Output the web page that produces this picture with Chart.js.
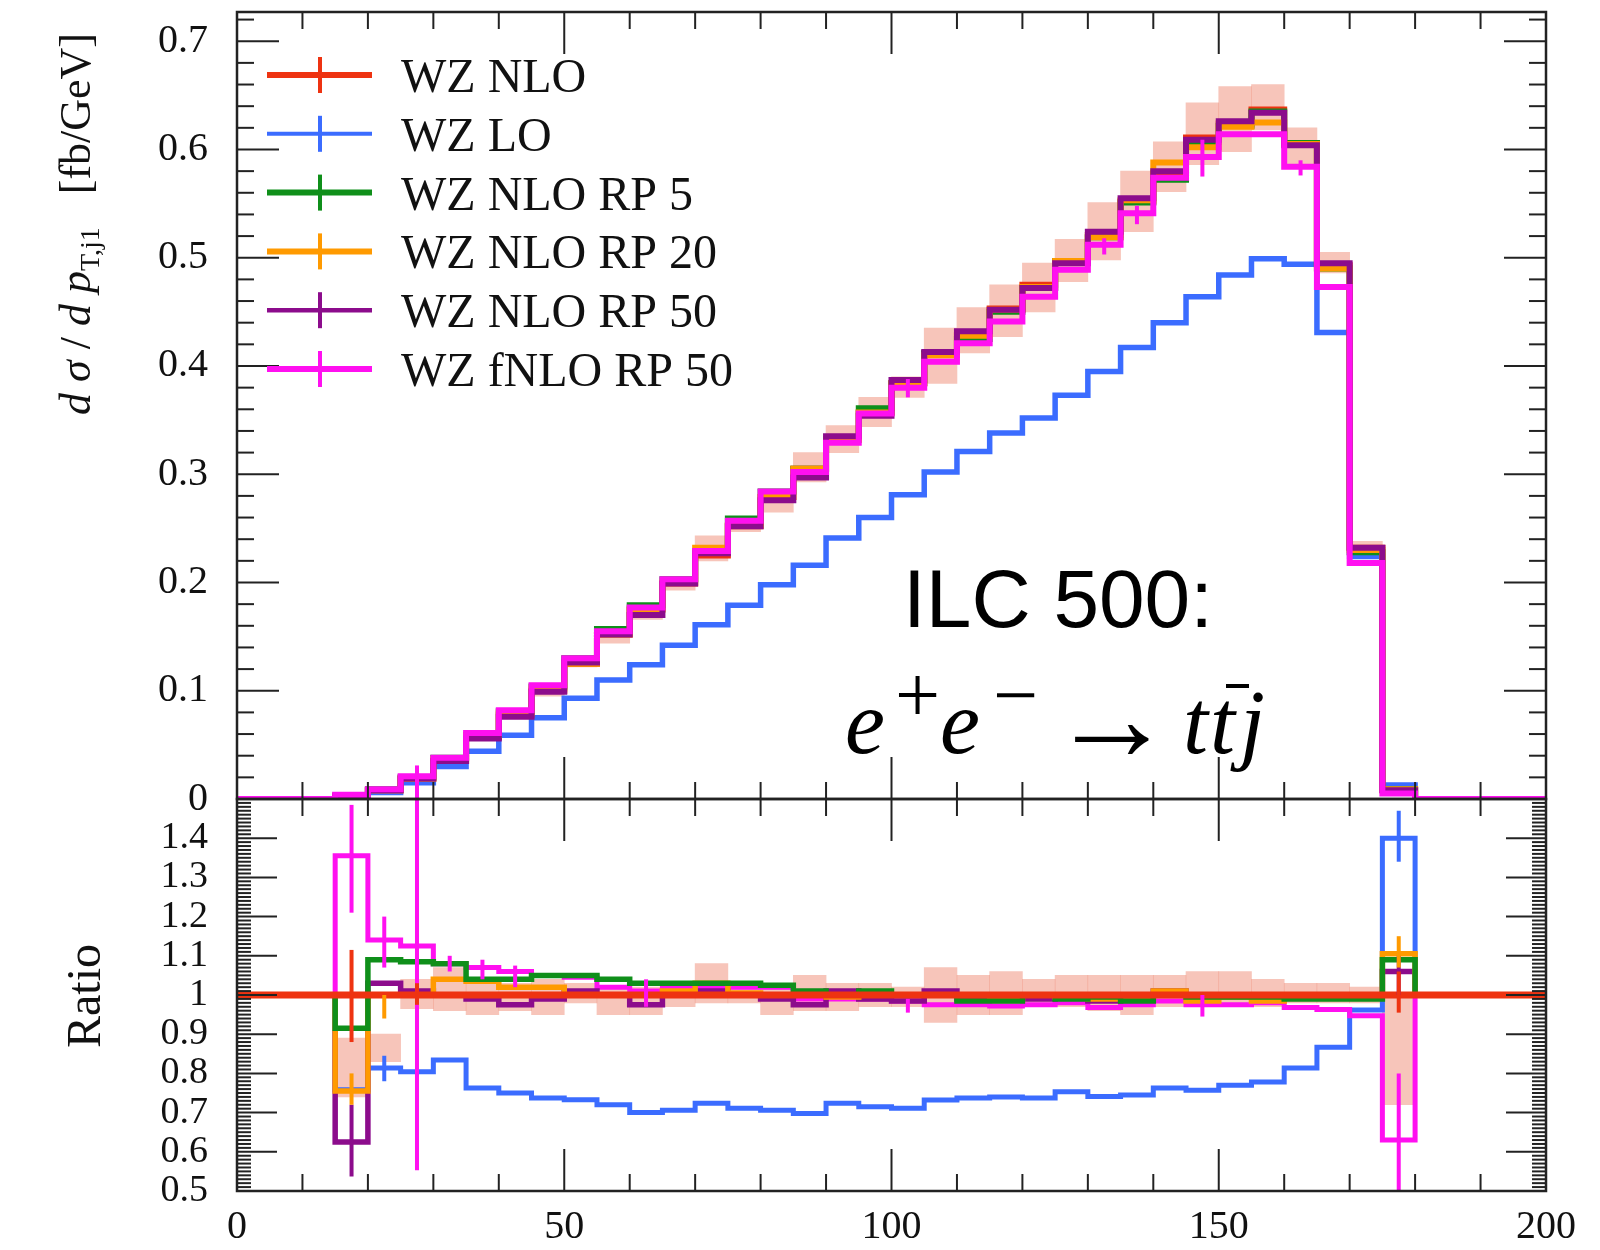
<!DOCTYPE html>
<html>
<head>
<meta charset="utf-8">
<script src="https://cdn.jsdelivr.net/npm/chart.js@4.4.1/dist/chart.umd.min.js"></script>
<style>
  html, body { margin: 0; padding: 0; background: #fff; }
  #wrap { position: relative; width: 1600px; height: 1250px; }
</style>
</head>
<body>
<div id="wrap"><canvas id="c" width="1600" height="1250"></canvas></div>
<script>
// pT of leading jet, 5 GeV bins
const binEdges = [0, 5, 10, 15, 20, 25, 30, 35, 40, 45, 50, 55, 60, 65, 70, 75, 80, 85, 90, 95, 100,
  105, 110, 115, 120, 125, 130, 135, 140, 145, 150, 155, 160, 165, 170, 175, 180, 185, 190, 195, 200];
const xTickLabels = [0, 50, 100, 150, 200];
const seriesNames = ["WZ NLO", "WZ LO", "WZ NLO RP 5", "WZ NLO RP 20", "WZ NLO RP 50", "WZ fNLO RP 50"];

// upper panel: dsigma/dpT [fb/GeV]
const nloTop = [0, 0, 0, 0.003, 0.008, 0.019, 0.035, 0.057, 0.078, 0.100,
  0.125, 0.152, 0.175, 0.199, 0.225, 0.252, 0.279, 0.305, 0.332, 0.357,
  0.384, 0.411, 0.429, 0.453, 0.475, 0.497, 0.521, 0.552, 0.578, 0.611,
  0.624, 0.637, 0.606, 0.493, 0.232, 0.008, 0, 0, 0, 0];
const loTop = [0, 0, 0, 0.002, 0.006, 0.015, 0.030, 0.044, 0.059, 0.075,
  0.093, 0.110, 0.124, 0.142, 0.161, 0.179, 0.198, 0.216, 0.241, 0.260,
  0.281, 0.302, 0.321, 0.338, 0.352, 0.373, 0.395, 0.417, 0.440, 0.464,
  0.484, 0.499, 0.494, 0.431, 0.224, 0.013, 0, 0, 0, 0];
const rp5Top = [0, 0, 0, 0.003, 0.009, 0.020, 0.038, 0.059, 0.081, 0.104,
  0.130, 0.157, 0.179, 0.203, 0.229, 0.259, 0.284, 0.305, 0.332, 0.361,
  0.384, 0.412, 0.425, 0.450, 0.472, 0.497, 0.519, 0.551, 0.572, 0.607,
  0.622, 0.635, 0.606, 0.490, 0.228, 0.009, 0, 0, 0, 0];
const rp20Top = [0, 0, 0, 0.002, 0.008, 0.019, 0.037, 0.059, 0.080, 0.102,
  0.125, 0.152, 0.175, 0.200, 0.232, 0.253, 0.279, 0.305, 0.332, 0.357,
  0.384, 0.410, 0.428, 0.452, 0.473, 0.497, 0.519, 0.553, 0.588, 0.602,
  0.621, 0.625, 0.605, 0.490, 0.230, 0.009, 0, 0, 0, 0];
const rp50Top = [0, 0, 0, 0.002, 0.008, 0.019, 0.035, 0.056, 0.076, 0.099,
  0.126, 0.152, 0.170, 0.199, 0.227, 0.252, 0.276, 0.297, 0.335, 0.354,
  0.387, 0.413, 0.432, 0.452, 0.472, 0.495, 0.524, 0.555, 0.580, 0.609,
  0.626, 0.634, 0.604, 0.495, 0.232, 0.008, 0, 0, 0, 0];
const fnloTop = [0, 0, 0, 0.004, 0.009, 0.021, 0.038, 0.061, 0.082, 0.105,
  0.130, 0.155, 0.177, 0.203, 0.229, 0.257, 0.284, 0.302, 0.329, 0.356,
  0.380, 0.404, 0.421, 0.441, 0.464, 0.489, 0.512, 0.541, 0.574, 0.593,
  0.614, 0.614, 0.584, 0.473, 0.218, 0.005, 0, 0, 0, 0];
const bandTopLo = [null, null, null, 0.002, 0.007, 0.018, 0.034, 0.054, 0.075, 0.095,
  0.122, 0.144, 0.166, 0.193, 0.220, 0.247, 0.265, 0.293, 0.320, 0.344,
  0.371, 0.384, 0.412, 0.427, 0.450, 0.478, 0.498, 0.524, 0.561, 0.586,
  0.598, 0.618, 0.583, 0.486, 0.226, 0.006, null, null, null, null];
const bandTopHi = [null, null, null, 0.003, 0.008, 0.020, 0.037, 0.059, 0.080, 0.104,
  0.129, 0.155, 0.179, 0.205, 0.243, 0.257, 0.285, 0.320, 0.345, 0.371,
  0.390, 0.435, 0.454, 0.475, 0.495, 0.517, 0.551, 0.580, 0.607, 0.643,
  0.658, 0.660, 0.620, 0.505, 0.238, 0.008, null, null, null, null];

// lower panel: ratio to WZ NLO
const ratioNLO = [1, 1, 1, 1, 1, 1, 1, 1, 1, 1, 1, 1, 1, 1, 1, 1, 1, 1, 1, 1,
  1, 1, 1, 1, 1, 1, 1, 1, 1, 1, 1, 1, 1, 1, 1, 1, 1, 1, 1, 1];
const ratioLO = [1, 1, 1, 0.758, 0.814, 0.804, 0.834, 0.763, 0.750, 0.737,
  0.733, 0.720, 0.700, 0.706, 0.724, 0.711, 0.706, 0.698, 0.724, 0.715,
  0.711, 0.732, 0.737, 0.740, 0.737, 0.753, 0.741, 0.745, 0.763, 0.757,
  0.770, 0.778, 0.814, 0.867, 0.962, 1.400, 1, 1, 1, 1];
const ratioRP5 = [1, 1, 1, 0.915, 1.090, 1.085, 1.080, 1.040, 1.040, 1.050,
  1.050, 1.040, 1.030, 1.030, 1.030, 1.030, 1.025, 1.010, 1.000, 1.010,
  1.000, 1.000, 0.985, 0.985, 1.000, 0.990, 0.995, 0.985, 1.000, 0.995,
  0.995, 0.995, 0.990, 0.990, 0.990, 1.090, 1, 1, 1, 1];
const ratioRP20 = [1, 1, 1, 0.755, 1.000, 1.000, 1.040, 1.035, 1.020, 1.020,
  1.000, 1.000, 1.000, 1.010, 1.030, 1.005, 1.000, 1.000, 0.995, 1.000,
  1.000, 1.000, 1.000, 0.990, 1.000, 0.995, 0.990, 0.990, 1.010, 0.985,
  0.995, 0.985, 0.995, 0.995, 1.000, 1.105, 1, 1, 1, 1];
const ratioRP50 = [1, 1, 1, 0.625, 1.030, 1.010, 1.000, 0.990, 0.975, 0.990,
  1.010, 1.000, 0.975, 1.000, 1.010, 1.000, 0.990, 0.975, 1.010, 0.990,
  0.985, 1.010, 0.990, 1.000, 0.990, 1.000, 0.985, 0.995, 1.010, 1.000,
  1.000, 1.000, 0.995, 1.000, 1.000, 1.060, 1, 1, 1, 1];
const ratioFNLO = [1, 1, 1, 1.355, 1.140, 1.125, 1.080, 1.070, 1.060, 1.050,
  1.045, 1.020, 1.010, 1.020, 1.020, 1.020, 1.020, 0.990, 0.990, 0.990,
  0.985, 0.975, 0.975, 0.972, 0.975, 0.980, 0.968, 0.975, 0.985, 0.975,
  0.975, 0.980, 0.968, 0.963, 0.947, 0.630, 1, 1, 1, 1];
const bandRatioLo = [null, null, null, 0.740, 0.830, 0.965, 0.960, 0.950, 0.960, 0.950,
  0.980, 0.950, 0.950, 0.970, 0.980, 0.980, 0.950, 0.960, 0.960, 0.970,
  0.970, 0.930, 0.950, 0.950, 0.970, 0.970, 0.960, 0.950, 0.970, 0.970,
  0.970, 0.970, 0.980, 0.980, 0.980, 0.720, null, null, null, null];
const bandRatioHi = [null, null, null, 0.890, 0.900, 1.040, 1.070, 1.030, 1.030, 1.040,
  1.030, 1.020, 1.020, 1.030, 1.080, 1.020, 1.020, 1.050, 1.030, 1.030,
  1.020, 1.070, 1.050, 1.060, 1.040, 1.050, 1.050, 1.050, 1.050, 1.060,
  1.060, 1.040, 1.030, 1.030, 1.020, 1.000, null, null, null, null];

// MC error bars: [bin index, low, high]
const topErrFNLO = [[5, -0.02, 0.031], [20, 0.371, 0.388], [26, 0.503, 0.518], [27, 0.531, 0.548], [29, 0.575, 0.609], [32, 0.576, 0.590]];
const ratioErrNLO = [[3, 0.88, 1.115], [5, 0.975, 1.03], [35, 0.955, 1.06]];
const ratioErrLO = [[4, 0.78, 0.845], [35, 1.34, 1.47]];
const ratioErrRP20 = [[3, 0.72, 0.80], [4, 0.94, 1.0], [35, 1.07, 1.15]];
const ratioErrRP50 = [[3, 0.537, 0.72], [35, 1.0, 1.1]];
const ratioErrFNLO = [[3, 1.21, 1.485], [4, 1.07, 1.2], [5, 0.553, 1.6], [6, 1.06, 1.1], [7, 1.04, 1.09],
  [8, 1.02, 1.075], [12, 0.97, 1.04], [20, 0.955, 0.99], [29, 0.945, 1.0], [35, 0.45, 0.80]];

const C = { nlo: "#ee3311", lo: "#3b6cff", rp5: "#0f8f1a", rp20: "#ff9a00", rp50: "#8c0c8c", fnlo: "#ff10f0",
  band: "rgba(240, 140, 118, 0.5)", axis: "#222" };
const SERIF = "'Liberation Serif', 'DejaVu Serif', serif";

function histPoints(vals) {
  const pts = vals.map((v, i) => ({ x: binEdges[i], y: v }));
  pts.push({ x: binEdges[vals.length], y: vals[vals.length - 1] });
  return pts;
}
function bandBars(lo, hi) {
  const out = [];
  lo.forEach((l, i) => {
    if (l !== null) out.push({ x: (binEdges[i] + binEdges[i + 1]) / 2, y: [l, hi[i]] });
  });
  return out;
}
function histSet(label, vals, color, width, axis, order) {
  return {
    type: "line", label, data: histPoints(vals), yAxisID: axis, order,
    borderColor: color, borderWidth: width, stepped: true, pointRadius: 0, fill: false,
    borderJoinStyle: "miter", borderCapStyle: "butt"
  };
}
function bandSet(lo, hi, axis) {
  return {
    type: "bar", label: "band", data: bandBars(lo, hi), yAxisID: axis, order: 100,
    backgroundColor: C.band, borderWidth: 0, grouped: false, barPercentage: 1, categoryPercentage: 1
  };
}

const legendItems = [
  { name: seriesNames[0], color: C.nlo, width: 6 },
  { name: seriesNames[1], color: C.lo, width: 4 },
  { name: seriesNames[2], color: C.rp5, width: 6 },
  { name: seriesNames[3], color: C.rp20, width: 6 },
  { name: seriesNames[4], color: C.rp50, width: 4.5 },
  { name: seriesNames[5], color: C.fnlo, width: 6 }
];

const errorSets = [
  { axis: "y", color: C.fnlo, items: topErrFNLO },
  { axis: "yr", color: C.lo, items: ratioErrLO },
  { axis: "yr", color: C.fnlo, items: ratioErrFNLO },
  { axis: "yr", color: C.rp50, items: ratioErrRP50 },
  { axis: "yr", color: C.rp20, items: ratioErrRP20 },
  { axis: "yr", color: C.nlo, items: ratioErrNLO }
];

function seg(ctx, x1, y1, x2, y2) {
  ctx.beginPath(); ctx.moveTo(x1, y1); ctx.lineTo(x2, y2); ctx.stroke();
}

const errorPlugin = {
  id: "errors",
  afterDatasetsDraw(chart) {
    const { ctx, scales } = chart;
    const x = scales.x;
    ctx.save();
    ctx.lineWidth = 4;
    for (const set of errorSets) {
      const ys = scales[set.axis];
      ctx.save();
      ctx.beginPath();
      ctx.rect(x.left, ys.top, x.right - x.left, ys.bottom - ys.top);
      ctx.clip();
      ctx.strokeStyle = set.color;
      for (const [bin, lo, hi] of set.items) {
        const px = x.getPixelForValue((binEdges[bin] + binEdges[bin + 1]) / 2);
        seg(ctx, px, ys.getPixelForValue(lo), px, ys.getPixelForValue(hi));
      }
      ctx.restore();
    }
    ctx.restore();
  }
};

// frame, inward ticks, legend and labels
const framePlugin = {
  id: "frame",
  afterDraw(chart) {
    const { ctx, scales } = chart;
    const x = scales.x;
    const L = x.left, R = x.right;
    ctx.save();
    ctx.strokeStyle = C.axis;
    const panels = [
      { s: scales.y, minor: 0.02, major: 0.1, minLen: 17, majLen: 42 },
      { s: scales.yr, minor: 0.01, major: 0.1, minLen: 14, majLen: 40 }
    ];
    for (const p of panels) {
      const T = p.s.top, B = p.s.bottom;
      ctx.lineWidth = 2;
      const n = Math.round((p.s.max - p.s.min) / p.minor);
      for (let i = 0; i <= n; i++) {
        const v = p.s.min + i * p.minor;
        const r = v / p.major;
        const len = Math.abs(r - Math.round(r)) < 1e-6 ? p.majLen : p.minLen;
        const py = p.s.getPixelForValue(v);
        seg(ctx, L, py, L + len, py);
        seg(ctx, R - len, py, R, py);
      }
      for (let v = 0; v <= 200; v += 10) {
        const px = x.getPixelForValue(v);
        const len = v % 50 === 0 ? 42 : 17;
        seg(ctx, px, T, px, T + len);
        seg(ctx, px, B - len, px, B);
      }
      ctx.lineWidth = 2.5;
      ctx.strokeRect(L, T, R - L, B - T);
    }

    // legend
    ctx.textBaseline = "alphabetic";
    ctx.textAlign = "left";
    legendItems.forEach((it, i) => {
      const yy = 75 + i * 58.8;
      ctx.strokeStyle = it.color;
      ctx.lineWidth = it.width;
      seg(ctx, 267, yy, 372, yy);
      ctx.lineWidth = 4;
      seg(ctx, 320, yy - 18, 320, yy + 18);
      ctx.fillStyle = "#111";
      ctx.font = "48px " + SERIF;
      ctx.fillText(it.name, 401, yy + 17);
    });

    // y titles
    ctx.fillStyle = "#111";
    drawRotated(ctx, [
      { t: "d", f: "italic 44px " + SERIF },
      { t: " ", f: "44px " + SERIF },
      { t: "σ", f: "italic 44px " + SERIF },
      { t: " / ", f: "44px " + SERIF },
      { t: "d", f: "italic 44px " + SERIF },
      { t: " ", f: "44px " + SERIF },
      { t: "p", f: "italic 44px " + SERIF },
      { t: "T,j1", f: "28px " + SERIF, dy: 9 },
      { t: "   [fb/GeV]", f: "44px " + SERIF }
    ], 76, 224);
    drawRotated(ctx, [{ t: "Ratio", f: "48px " + SERIF }], 86, 996);

    // process label
    ctx.fillStyle = "#000";
    ctx.font = "82px 'Liberation Sans', Arial, sans-serif";
    ctx.fillText("ILC 500:", 903, 627);
    const it90 = "italic 90px 'Liberation Serif', 'Times New Roman', serif";
    const up80 = "80px 'Liberation Serif', 'Times New Roman', serif";
    const pieces = [
      { t: "e", f: it90, x: 845, y: 753 },
      { t: "+", f: up80, x: 895, y: 722 },
      { t: "e", f: it90, x: 940, y: 753 },
      { t: "\u2212", f: up80, x: 993, y: 722 },
      { t: "\u2192", f: "124px 'Liberation Serif', 'Times New Roman', serif", x: 1050, y: 760 },
      { t: "t", f: it90, x: 1183, y: 753 },
      { t: "t", f: it90, x: 1210, y: 753, bar: true },
      { t: "j", f: it90, x: 1240, y: 753 }
    ];
    for (const p of pieces) {
      ctx.font = p.f;
      ctx.fillText(p.t, p.x, p.y);
      if (p.bar) {
        ctx.strokeStyle = "#000"; ctx.lineWidth = 4;
        seg(ctx, p.x + 16, 686, p.x + 39, 686);
      }
    }
    ctx.restore();
  }
};

function drawRotated(ctx, parts, cx, cy) {
  ctx.save();
  ctx.translate(cx, cy);
  ctx.rotate(-Math.PI / 2);
  let total = 0;
  for (const p of parts) { ctx.font = p.f; total += ctx.measureText(p.t).width; }
  let px = -total / 2;
  ctx.textBaseline = "alphabetic";
  ctx.textAlign = "left";
  for (const p of parts) {
    ctx.font = p.f;
    ctx.fillText(p.t, px, 14 + (p.dy || 0));
    px += ctx.measureText(p.t).width;
  }
  ctx.restore();
}

function noPad(scale) {
  scale.paddingTop = 0; scale.paddingBottom = 0; scale.paddingLeft = 0; scale.paddingRight = 0;
}
const tickLabel = (v) => String(Math.round(v * 10) / 10);

Chart.defaults.font.family = SERIF;
Chart.defaults.color = "#111";

new Chart(document.getElementById("c"), {
  type: "line",
  data: {
    datasets: [
      bandSet(bandTopLo, bandTopHi, "y"),
      histSet(seriesNames[1], loTop, C.lo, 5.5, "y", 60),
      histSet(seriesNames[0], nloTop, C.nlo, 6, "y", 50),
      histSet(seriesNames[2], rp5Top, C.rp5, 6, "y", 40),
      histSet(seriesNames[3], rp20Top, C.rp20, 6, "y", 30),
      histSet(seriesNames[4], rp50Top, C.rp50, 6, "y", 20),
      histSet(seriesNames[5], fnloTop, C.fnlo, 6, "y", 10),
      bandSet(bandRatioLo, bandRatioHi, "yr"),
      histSet(seriesNames[1], ratioLO, C.lo, 5, "yr", 60),
      histSet(seriesNames[5], ratioFNLO, C.fnlo, 5, "yr", 55),
      histSet(seriesNames[4], ratioRP50, C.rp50, 5.5, "yr", 40),
      histSet(seriesNames[3], ratioRP20, C.rp20, 5.5, "yr", 35),
      histSet(seriesNames[2], ratioRP5, C.rp5, 5.5, "yr", 30),
      histSet(seriesNames[0], ratioNLO, C.nlo, 7, "yr", 1)
    ]
  },
  options: {
    responsive: false,
    animation: false,
    devicePixelRatio: 1,
    layout: { padding: { top: 12, right: 54, left: 0, bottom: 0 } },
    plugins: { legend: { display: false }, tooltip: { enabled: false } },
    scales: {
      x: {
        type: "linear", min: 0, max: 200, offset: false,
        grid: { display: false, drawTicks: false }, border: { display: false },
        ticks: {
          stepSize: 50, autoSkip: false, maxRotation: 0, padding: 12,
          font: { size: 40 }, color: "#111",
          callback: (v) => (xTickLabels.includes(v) ? String(v) : "")
        },
        afterFit: (s) => { s.height = 59; noPad(s); }
      },
      yr: {
        type: "linear", position: "left", stack: "panels", stackWeight: 392,
        min: 0.5, max: 1.5,
        grid: { display: false, drawTicks: false }, border: { display: false },
        ticks: { stepSize: 0.1, autoSkip: false, padding: 29, font: { size: 38 }, color: "#111",
          callback: (v) => (v > 1.45 ? "" : tickLabel(v)) },
        afterFit: (s) => { s.width = 237; noPad(s); }
      },
      y: {
        type: "linear", position: "left", stack: "panels", stackWeight: 787,
        min: 0, max: 0.727,
        grid: { display: false, drawTicks: false }, border: { display: false },
        ticks: { stepSize: 0.1, autoSkip: false, includeBounds: false, padding: 29, font: { size: 40 }, color: "#111",
          callback: tickLabel },
        afterFit: (s) => { s.width = 237; noPad(s); }
      }
    }
  },
  plugins: [errorPlugin, framePlugin]
});
</script>
</body>
</html>
